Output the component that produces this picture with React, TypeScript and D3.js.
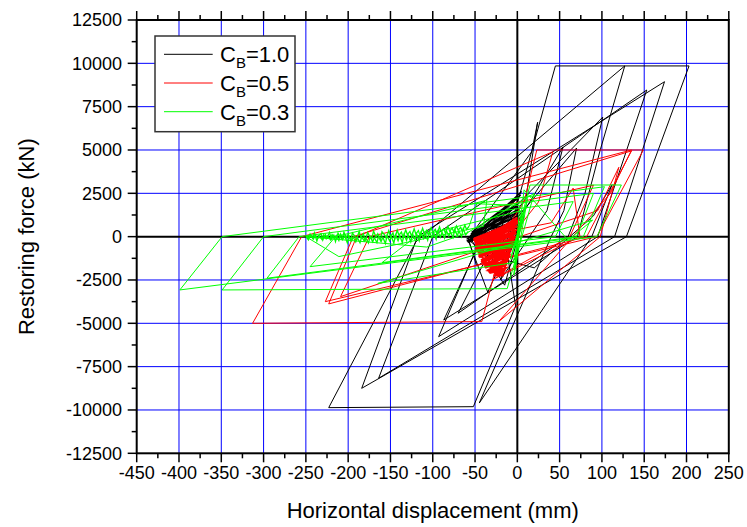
import React from "react";
import * as d3 from "d3";

// ---------- data (displacement mm, restoring force kN) ----------
const xTickValues = [-450, -400, -350, -300, -250, -200, -150, -100, -50, 0, 50, 100, 150, 200, 250];
const yTickValues = [-12500, -10000, -7500, -5000, -2500, 0, 2500, 5000, 7500, 10000, 12500];
const xMinorValues = [-425, -375, -325, -275, -225, -175, -125, -75, -25, 25, 75, 125, 175, 225];
const yMinorValues = [-11250, -8750, -6250, -3750, -1250, 1250, 3750, 6250, 8750, 11250];

const seriesNames = ["1.0", "0.5", "0.3"];
const seriesColors = ["#000000", "#ff0000", "#00ff00"];

// C_B = 1.0 : large loops
const cb10: [number, number][] = [
  [0, 0], [4, 900], [-6, -500], [-25, -900], [6, 1500], [-54, -200], [-42, -1200], [10, 2200], [24, 6600], [17, 4900],
  [-58, -120], [-48, -1700], [-12, -600], [-3, 1400], [45, 9850], [203, 9850], [129, 0], [-184, -8750], [-118, 0],
  [174, 8940], [115, 0], [-164, -8170], [-100, 0], [153, 8460], [95, 0], [-93, -5770], [-45, -300], [-20, 1500],
  [-2, -4000], [-52, -9810], [-223, -9865], [-120, -300], [127, 9850], [98, 5000], [71, 0], [-87, -4810], [-45, -400],
  [101, 6900], [80, 2500], [60, 0], [-70, -4420], [-30, -600], [70, 5110], [55, 1500], [40, 0], [-45, -9600], [88, 0],
  [112, 3000], [90, 1200], [20, -1800], [-25, -1200], [54, 5170], [35, 1500], [-20, -2500], [5, 1000], [-58, -200],
  [-35, -3200], [0, 500], [-50, -100], [-15, -2800], [8, 1200], [-56, -250], [-25, -1500], [-40, 300], [0, 2200],
  [-55, -100], [-10, -1000], [0, 0],
];
// C_B = 1.0 : dense wedge near the origin
const cb10Core: [number, number][] = [
  [-60, -250], [0, 1200], [-58, -100], [2, 1600], [-56, 50], [-1, 900], [-59, -300], [3, 2000], [-55, 150], [0, 1400],
  [-57, -200], [4, 2400], [-54, 250], [-2, 1100], [-60, -150], [1, 1800], [-53, 0], [5, 2600], [-58, -350], [0, 1000],
];

// C_B = 0.5 : loops
const cb05: [number, number][] = [
  [0, 0], [-10, -800], [-30, -300], [-5, 600], [-40, -1500], [8, 2000], [23, 5000], [149, 5000], [94, 0], [-227, -3750],
  [-194, 0], [135, 4950], [82, 0], [-223, -3880], [-190, 0], [42, 4900], [25, 2000], [-20, -800], [-42, -4900],
  [-313, -5000], [-255, 0], [135, 5000], [110, 2500], [-22, -4900], [98, 0], [120, 4000], [95, 1500], [-209, -3460],
  [-175, 0], [90, 2970], [62, 0], [-30, -2500], [74, 0], [66, 2800], [40, 800], [-52, -100],
];
// C_B = 0.5 : dense core near the origin
const cb05Core: [number, number][] = [
  [-52, -150], [3, 1000], [-51, -300], [2, 800], [-50, -450], [1, 600], [-49, -600], [0, 400], [-48, -750], [-1, 200],
  [-47, -900], [-2, 0], [-46, -1050], [-3, -200], [-45, -1200], [-4, -400], [-43, -1350], [-5, -600], [-42, -1500],
  [-7, -800], [-40, -1650], [-8, -1000], [-38, -1800], [-10, -1300], [-36, -1950], [-12, -1600], [-33, -2100],
  [-14, -1900], [-28, -2250], [-17, -2250], [-3, 600], [-52, -200], [-1, 900], [-50, -500], [-2, 300], [-48, -800],
  [-4, -100], [-46, -1150], [-6, -500], [-43, -1450], [-9, -900], [-39, -1750], [-11, -1400], [-34, -2050],
  [-13, -1800], [-22, -2250], [-49, -350], [0, 1100], [-45, -1000], [-5, -300], [-41, -1550], [-8, -1100],
  [-35, -1950], [-16, -2100], [-25, -2200], [-49, -700], [2, 900], [-51, -100], [0, 0],
];

// C_B = 0.3 : loops
const cb03: [number, number][] = [
  [0, 0], [6, 900], [-4, -700], [10, 1800], [-8, -1300], [15, 2980], [123, 2980], [94, 0], [-399, -3075], [-349, 0],
  [103, 2880], [78, 0], [-296, -2400], [-258, 0], [66, 2020], [45, 0], [-245, -1730], [-215, 0], [-36, 2100], [-40, 600],
  [-211, -1150], [-250, 0], [-107, -600], [-60, 200], [20, 2500], [-12, -3000], [-349, -3075], [-300, 0], [90, 2500],
  [70, 0], [-160, -1500], [-120, 0], [5, 1500], [-3, -2000], [12, 2200], [-5, -1500], [-165, -2700], [89, 950],
  [60, -200], [8, 2700], [-4, -2200], [3, 1800], [-48, 1900], [-57, 600],
];
// C_B = 0.3 : jittery band along zero force (forward pass)
const cb03Band: [number, number][] = [
  [-250, 0], [-247, -180], [-245, 150], [-242, -90], [-240, 220], [-237, -250], [-235, 60], [-232, 180], [-230, -200],
  [-227, 120], [-225, -60], [-222, 250], [-220, -150], [-217, 90], [-215, -280], [-212, 200], [-210, 30], [-207, -170],
  [-205, 260], [-202, -60], [-200, 140], [-197, -230], [-195, 210], [-192, 20], [-190, -120], [-187, 300], [-185, -40],
  [-182, 180], [-180, -260], [-177, 240], [-175, 60], [-172, -100], [-170, 320], [-167, -20], [-165, 160], [-162, -200],
  [-160, 280], [-157, 100], [-155, -80], [-152, 350], [-150, 0], [-147, 220], [-145, -150], [-142, 380], [-140, 80],
  [-137, 260], [-135, -60], [-132, 400], [-130, 120], [-127, 300], [-125, 20], [-122, 450], [-120, 150], [-117, 350],
  [-115, 60], [-112, 480], [-110, 200], [-107, 380], [-105, 100], [-102, 520], [-100, 250], [-97, 420], [-95, 150],
  [-92, 560], [-90, 280], [-87, 450], [-85, 200], [-82, 600], [-80, 320], [-77, 500], [-75, 250], [-72, 620], [-70, 380],
  [-67, 540], [-65, 300], [-62, 660], [-60, 420], [-57, 600],
];
// C_B = 0.3 : jittery band along zero force (return pass)
const cb03BandBack: [number, number][] = [
  [-58, 300], [-61, 100], [-64, 450], [-66, 0], [-69, 330], [-71, 50], [-74, 400], [-76, -50], [-79, 270], [-81, 30],
  [-84, 350], [-86, -90], [-89, 250], [-91, -30], [-94, 310], [-96, -150], [-99, 230], [-101, -50], [-104, 270],
  [-106, -200], [-109, 180], [-111, -110], [-114, 230], [-116, -250], [-119, 150], [-121, -170], [-124, 170],
  [-126, -300], [-129, 90], [-131, -210], [-134, 130], [-136, -350], [-139, 50], [-141, -230], [-144, 90], [-146, -370],
  [-149, 10], [-151, -250], [-154, 50], [-156, -400], [-159, -30], [-161, -270], [-164, 30], [-166, -350], [-169, -50],
  [-171, -300], [-174, 0], [-176, -370], [-179, -90], [-181, -250], [-184, -10], [-186, -350], [-189, -70],
  [-191, -310], [-194, -30], [-196, -230], [-199, 30], [-201, -350], [-204, 40], [-206, -120], [-209, 150],
  [-211, -220], [-214, 60], [-216, -100], [-219, 120], [-221, -180], [-224, 40], [-226, -120], [-229, 100],
  [-231, -160], [-234, 30], [-236, -100], [-239, 80], [-241, -140], [-244, 50], [-246, -60], [-249, 20],
];

const layers: { data: [number, number][]; color: string; width: number }[] = [
  { data: cb10, color: seriesColors[0], width: 1 },
  { data: cb10Core, color: seriesColors[0], width: 1.3 },
  { data: cb05, color: seriesColors[1], width: 1 },
  { data: cb05Core, color: seriesColors[1], width: 1.8 },
  { data: cb03, color: seriesColors[2], width: 1 },
  { data: cb03Band, color: seriesColors[2], width: 1.3 },
  { data: cb03BandBack, color: seriesColors[2], width: 1.3 },
];

// ---------- layout ----------
const W = 747;
const H = 527;
const x = d3.scaleLinear().domain([-450, 250]).range([136.7, 728.8]);
const y = d3.scaleLinear().domain([-12500, 12500]).range([453.3, 20]);
const line = d3
  .line<[number, number]>()
  .x((d) => x(d[0]))
  .y((d) => y(d[1]));

const FONT = "'Liberation Sans', Arial, sans-serif";

export default function App() {
  const [x0, x1] = x.range();
  const [y0, y1] = y.range();
  return (
    <svg
      width={W}
      height={H}
      style={{ position: "absolute", left: 0, top: 0, background: "#fff" }}
      fontFamily={FONT}
    >
      <defs>
        <clipPath id="plotClip">
          <rect x={x0} y={y1} width={x1 - x0} height={y0 - y1} />
        </clipPath>
      </defs>
      <rect x={0} y={0} width={W} height={H} fill="#fff" />
      {/* grid */}
      {xTickValues
        .filter((v) => v !== 0 && v !== -450 && v !== 250)
        .map((v) => (
          <line key={"gx" + v} x1={x(v)} x2={x(v)} y1={y1} y2={y0} stroke="#0000ff" strokeWidth={1} />
        ))}
      {yTickValues
        .filter((v) => v !== 0 && Math.abs(v) !== 12500)
        .map((v) => (
          <line key={"gy" + v} x1={x0} x2={x1} y1={y(v)} y2={y(v)} stroke="#0000ff" strokeWidth={1} />
        ))}
      {/* zero lines */}
      <line x1={x(0)} x2={x(0)} y1={y1} y2={y0} stroke="#000" strokeWidth={2} />
      <line x1={x0} x2={x1} y1={y(0)} y2={y(0)} stroke="#000" strokeWidth={2} />
      {/* data */}
      <g clipPath="url(#plotClip)">
        {layers.map((l, i) => (
          <path
            key={"s" + i}
            d={line(l.data) || ""}
            fill="none"
            stroke={l.color}
            strokeWidth={l.width}
            strokeLinejoin="miter"
          />
        ))}
      </g>
      {/* frame */}
      <rect x={x0} y={y1} width={x1 - x0} height={y0 - y1} fill="none" stroke="#000" strokeWidth={2} />
      {/* ticks */}
      {xTickValues.map((v) => (
        <g key={"xt" + v}>
          <line x1={x(v)} x2={x(v)} y1={y0} y2={y0 + 9} stroke="#000" strokeWidth={1.5} />
          <line x1={x(v)} x2={x(v)} y1={y1} y2={y1 - 9} stroke="#000" strokeWidth={1.5} />
          <text x={x(v)} y={479} textAnchor="middle" fontSize={18} fill="#000">
            {v}
          </text>
        </g>
      ))}
      {xMinorValues.map((v) => (
        <g key={"xm" + v}>
          <line x1={x(v)} x2={x(v)} y1={y0} y2={y0 + 5} stroke="#000" strokeWidth={1.5} />
          <line x1={x(v)} x2={x(v)} y1={y1} y2={y1 - 5} stroke="#000" strokeWidth={1.5} />
        </g>
      ))}
      {yTickValues.map((v) => (
        <g key={"yt" + v}>
          <line x1={x0 - 9} x2={x0} y1={y(v)} y2={y(v)} stroke="#000" strokeWidth={1.5} />
          <text x={122} y={y(v)} dy="0.35em" textAnchor="end" fontSize={18} fill="#000">
            {v}
          </text>
        </g>
      ))}
      {yMinorValues.map((v) => (
        <line key={"ym" + v} x1={x0 - 5} x2={x0} y1={y(v)} y2={y(v)} stroke="#000" strokeWidth={1.5} />
      ))}
      {/* axis titles */}
      <text x={(x0 + x1) / 2} y={518} textAnchor="middle" fontSize={22} fill="#000">
        Horizontal displacement (mm)
      </text>
      <text
        transform={`translate(34, ${(y0 + y1) / 2}) rotate(-90)`}
        textAnchor="middle"
        fontSize={22}
        fill="#000"
      >
        Restoring force (kN)
      </text>
      {/* legend */}
      <g>
        <rect x={155} y={36} width={140} height={95.7} fill="#fff" stroke="#333" strokeWidth={1.5} />
        {seriesNames.map((n, i) => (
          <g key={"lg" + i}>
            <line x1={164} x2={212.7} y1={54.3 + i * 28.7} y2={54.3 + i * 28.7} stroke={seriesColors[i]} strokeWidth={1} />
            <text x={220} y={62.3 + i * 28.8} fontSize={22} fill="#000">
              C
              <tspan fontSize={15} dy={6}>B</tspan>
              <tspan dy={-6}>={n}</tspan>
            </text>
          </g>
        ))}
      </g>
    </svg>
  );
}
